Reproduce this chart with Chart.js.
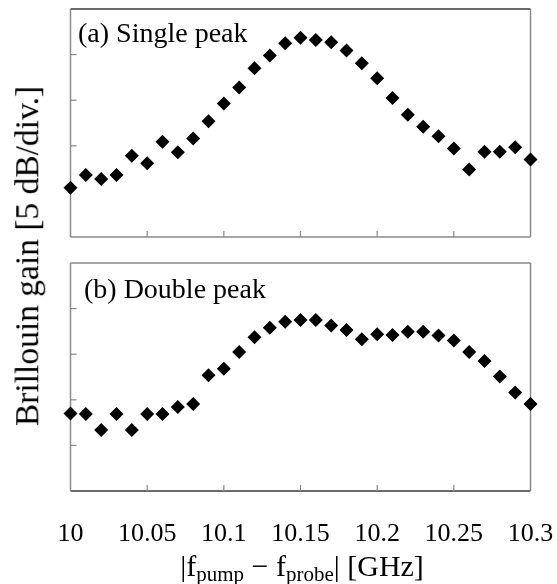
<!DOCTYPE html>
<html>
<head>
<meta charset="utf-8">
<title>Brillouin gain</title>
<script src="https://cdn.jsdelivr.net/npm/chart.js"></script>
<style>
  body { margin: 0; background: #fff; font-family: "Liberation Serif", "Times New Roman", serif; color: #000; }
  #page { position: relative; width: 557px; height: 584px; overflow: hidden; }
  canvas { position: absolute; left: 0; }
  #topChart { top: 0; }
  #bottomChart { top: 254px; }
  .tag { position: absolute; font-size: 28px; line-height: 1; white-space: nowrap; }
  #ytitle { position: absolute; left: 27px; top: 256px; transform: translate(-50%, -50%) rotate(-90deg);
            font-size: 33.5px; line-height: 1; white-space: nowrap; }
  #xtitle { position: absolute; left: 302px; top: 551px; transform: translateX(-50%);
            font-size: 30px; line-height: 1; white-space: nowrap; }
  #xtitle sub { font-size: 21px; vertical-align: -5px; line-height: 0; }
</style>
</head>
<body>
<div id="page">
  <canvas id="topChart" width="557" height="250"></canvas>
  <canvas id="bottomChart" width="557" height="330"></canvas>
  <div class="tag" style="left:78px; top:19px;">(a) Single peak</div>
  <div class="tag" style="left:84px; top:275px;">(b) Double peak</div>
  <div id="ytitle">Brillouin gain [5 dB/div.]</div>
  <div id="xtitle">|f<sub>pump</sub> &minus; f<sub>probe</sub>| [GHz]</div>
</div>
<script>
// 频率 (GHz)
const freqs = [10.00, 10.01, 10.02, 10.03, 10.04, 10.05, 10.06, 10.07, 10.08, 10.09,
               10.10, 10.11, 10.12, 10.13, 10.14, 10.15, 10.16, 10.17, 10.18, 10.19,
               10.20, 10.21, 10.22, 10.23, 10.24, 10.25, 10.26, 10.27, 10.28, 10.29, 10.30];

// 增益 (单位: 格, 5 dB/格)
const singlePeak = [1.08, 1.36, 1.27, 1.36, 1.78, 1.62, 2.09, 1.86, 2.16, 2.54,
                    2.93, 3.28, 3.70, 3.98, 4.25, 4.37, 4.32, 4.27, 4.09, 3.81,
                    3.48, 3.05, 2.68, 2.42, 2.21, 1.94, 1.48, 1.87, 1.87, 1.97, 1.70];
const doublePeak = [1.70, 1.69, 1.34, 1.69, 1.34, 1.69, 1.69, 1.84, 1.91, 2.54,
                    2.68, 3.05, 3.37, 3.58, 3.71, 3.75, 3.75, 3.63, 3.53, 3.33,
                    3.44, 3.42, 3.49, 3.49, 3.41, 3.30, 3.05, 2.85, 2.51, 2.16, 1.91];

// 刻度
const xTickValues = [10, 10.05, 10.1, 10.15, 10.2, 10.25, 10.3];
const xTickLabels = ['10', '10.05', '10.1', '10.15', '10.2', '10.25', '10.3'];
const topYTicks = [2, 3, 4];
const bottomYTicks = [1, 2, 3, 4];

const GRAY = '#8a8a8a';
const DARK = '#3a3a3a';

// 画边框和朝内的刻度线
const framePlugin = {
  id: 'frame',
  beforeDatasetsDraw(chart, args, opts) {
    const { ctx, chartArea: a, scales } = chart;
    const line = (color, w, x1, y1, x2, y2) => {
      ctx.strokeStyle = color;
      ctx.lineWidth = w;
      ctx.beginPath();
      ctx.moveTo(x1, y1);
      ctx.lineTo(x2, y2);
      ctx.stroke();
    };
    ctx.save();
    line(opts.dark === 'top' ? DARK : GRAY, 1.5, a.left, a.top, a.right, a.top);
    line(opts.dark === 'bottom' ? DARK : GRAY, 1.5, a.left, a.bottom, a.right, a.bottom);
    line(GRAY, 1.5, a.left, a.top, a.left, a.bottom);
    line(GRAY, 1.5, a.right, a.top, a.right, a.bottom);
    opts.yTicks.forEach(v => {
      const y = scales.y.getPixelForValue(v);
      line(GRAY, 1.2, a.left, y, a.left + 6, y);
    });
    xTickValues.slice(1, -1).forEach(v => {
      const x = scales.x.getPixelForValue(v);
      line(GRAY, 1.2, x, a.bottom, x, a.bottom - 6);
    });
    ctx.restore();
  }
};

function makePanel(id, values, yTicks, dark, showX, padding) {
  return new Chart(document.getElementById(id), {
    type: 'scatter',
    data: {
      datasets: [{
        data: freqs.map((f, i) => ({ x: f, y: values[i] })),
        pointStyle: 'rectRot',
        pointRadius: 7,
        pointHoverRadius: 7,
        backgroundColor: '#000',
        borderWidth: 0,
        clip: false
      }]
    },
    options: {
      responsive: false,
      animation: false,
      events: [],
      layout: { padding },
      plugins: {
        legend: { display: false },
        tooltip: { enabled: false },
        frame: { yTicks, dark }
      },
      scales: {
        x: {
          type: 'linear',
          min: 10,
          max: 10.3,
          display: showX,
          grid: { display: false },
          border: { display: false },
          afterBuildTicks: s => { s.ticks = xTickValues.map(v => ({ value: v })); },
          afterFit: s => {
            if (!showX) return;
            s.height = 60;
            s.paddingLeft = 0;
            s.paddingRight = 0;
          },
          ticks: {
            autoSkip: false,
            maxRotation: 0,
            padding: 20,
            color: '#000',
            font: { family: 'Liberation Serif', size: 26 },
            callback: (v, i) => xTickLabels[i]
          }
        },
        y: { min: 0, max: 5, display: false }
      }
    },
    plugins: [framePlugin]
  });
}

makePanel('topChart', singlePeak, topYTicks, 'top', false,
  { left: 70.5, right: 26.5, top: 9, bottom: 13 });
makePanel('bottomChart', doublePeak, bottomYTicks, 'bottom', true,
  { left: 70.5, right: 26.5, top: 9, bottom: 33 });
</script>
</body>
</html>
